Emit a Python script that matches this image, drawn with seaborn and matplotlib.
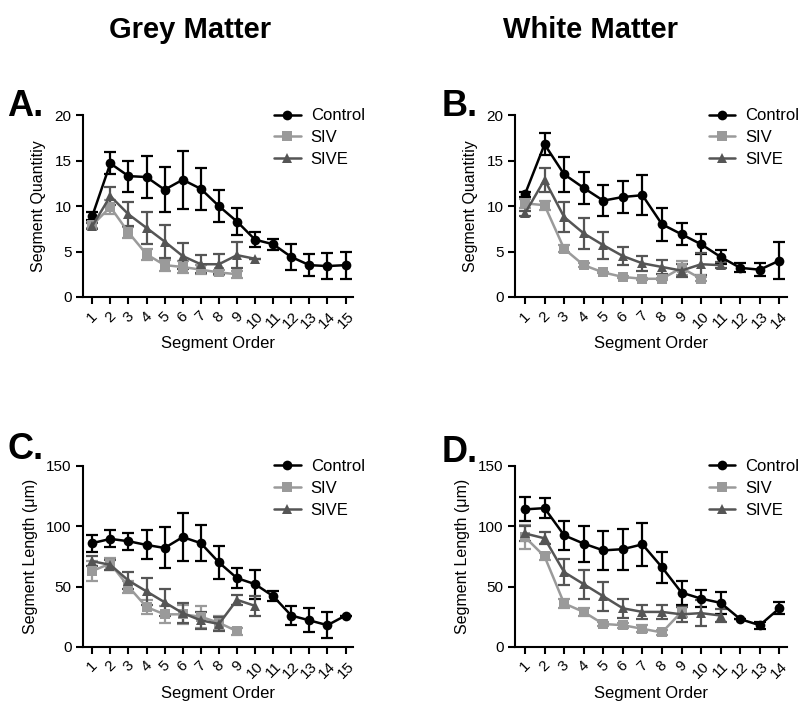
import pandas as pd
import matplotlib
matplotlib.use("Agg")
import matplotlib.pyplot as plt
import seaborn as sns

# Panel A - grey matter, segment quantity
a_ctrl = [8.9, 14.7, 13.3, 13.2, 11.8, 12.9, 11.9, 10.0, 8.3, 6.3, 5.8, 4.4, 3.5, 3.4, 3.5]
a_ctrl_err = [0.4, 1.2, 1.7, 2.3, 2.5, 3.2, 2.3, 1.8, 1.5, 0.8, 0.6, 1.4, 1.2, 1.4, 1.5]
a_siv = [7.9, 9.9, 7.1, 4.7, 3.5, 3.3, 3.0, 2.7, 2.5]
a_siv_err = [0.3, 0.8, 0.6, 0.6, 0.6, 0.7, 0.5, 0.3, 0.4]
a_sive = [7.8, 11.1, 9.1, 7.6, 6.1, 4.5, 3.6, 3.6, 4.6, 4.2]
a_sive_err = [0.3, 1.0, 1.3, 1.8, 1.8, 1.4, 1.0, 1.1, 1.4, 0.0]

# Panel B - white matter, segment quantity
b_ctrl = [11.3, 16.8, 13.5, 12.0, 10.6, 11.0, 11.2, 8.0, 6.9, 5.8, 4.4, 3.2, 3.0, 4.0]
b_ctrl_err = [0.3, 1.2, 1.9, 1.8, 1.7, 1.8, 2.2, 1.8, 1.2, 1.1, 0.8, 0.5, 0.7, 2.0]
b_siv = [10.3, 10.1, 5.3, 3.5, 2.7, 2.2, 2.0, 2.0, 3.2, 2.0]
b_siv_err = [0.5, 0.5, 0.4, 0.2, 0.1, 0.1, 0.1, 0.1, 0.8, 0.2]
b_sive = [9.2, 12.9, 8.8, 7.0, 5.7, 4.5, 3.7, 3.3, 2.9, 3.6, 3.5]
b_sive_err = [0.3, 1.3, 1.6, 1.7, 1.5, 1.0, 0.8, 0.8, 0.7, 1.2, 0.3]

# Panel C - grey matter, segment length
c_ctrl = [86, 89.5, 87.6, 84.5, 82, 91, 86, 70, 57, 52, 42, 26, 22, 18, 26]
c_ctrl_err = [7, 7, 7, 12, 17, 20, 15, 14, 8, 12, 4, 8, 10, 11, 0]
c_siv = [63, 69, 50, 33, 27, 27, 25, 20, 13]
c_siv_err = [8, 5, 5, 6, 7, 8, 9, 6, 3]
c_sive = [71, 68, 55, 46, 37, 28, 22, 19, 39, 34]
c_sive_err = [4, 4, 7, 11, 11, 8, 7, 6, 4, 8]

# Panel D - white matter, segment length
d_ctrl = [114, 115, 92.5, 85.6, 80, 81, 85, 66, 45, 40, 36.5, 23, 18, 32]
d_ctrl_err = [10, 8, 12, 15, 16, 17, 18, 13, 10, 7, 9, 0, 3, 5]
d_siv = [91, 75, 36, 29, 19, 18, 15, 12, 29]
d_siv_err = [10, 3, 4, 3, 2, 2, 3, 2, 4]
d_sive = [94, 90, 62, 52, 42, 32, 29, 29, 27, 28, 26]
d_sive_err = [6, 5, 11, 12, 12, 8, 6, 6, 6, 11, 5]

qty_ticks = [0, 5, 10, 15, 20]
len_ticks = [0, 50, 100, 150]

groups = ["Control", "SIV", "SIVE"]
colors = {"Control": "#000000", "SIV": "#9a9a9a", "SIVE": "#555555"}
markers = {"Control": "o", "SIV": "s", "SIVE": "^"}

sns.set_theme(style="ticks")
plt.rcParams["font.family"] = ["Liberation Sans", "DejaVu Sans"]
for k in ["text.color", "axes.labelcolor", "xtick.color", "ytick.color", "axes.edgecolor"]:
    plt.rcParams[k] = "black"


def panel(ax, series, yticks, ylabel, nx):
    rows = []
    for g, (vals, errs) in zip(groups, series):
        for i, (v, e) in enumerate(zip(vals, errs)):
            rows.append({"order": i + 1, "value": v, "err": e, "group": g})
    df = pd.DataFrame(rows)
    for g in groups:
        sub = df[df.group == g]
        ax.errorbar(sub.order, sub.value, yerr=sub.err, fmt="none",
                    ecolor=colors[g], elinewidth=1.6, capsize=4, capthick=1.6, zorder=2)
    sns.lineplot(data=df, x="order", y="value", hue="group", style="group",
                 palette=colors, markers=markers, dashes=False, linewidth=1.8,
                 markersize=7, markeredgewidth=0, ax=ax, zorder=3)
    ax.set_ylim(yticks[0], yticks[-1])
    ax.set_yticks(yticks)
    ax.set_yticklabels([str(t) for t in yticks])
    ax.set_xlim(0.5, nx + 0.4)
    ax.set_xticks(range(1, nx + 1))
    ax.set_xticklabels([str(i) for i in range(1, nx + 1)], rotation=45, ha="center")
    ax.set_xlabel("Segment Order", fontsize=12, labelpad=4)
    ax.set_ylabel(ylabel, fontsize=11.5, labelpad=6)
    ax.tick_params(labelsize=11, width=1.5, length=5, direction="out")
    for s in ["left", "bottom"]:
        ax.spines[s].set_linewidth(1.5)
    sns.despine(ax=ax)
    ax.legend(frameon=False, fontsize=12, loc="upper right", bbox_to_anchor=(1.1, 1.12),
              handlelength=1.6, handletextpad=0.6, labelspacing=0.4, title=None)


fig = plt.figure(figsize=(8, 7.07), dpi=100)
ax_a = fig.add_axes([0.104, 0.580, 0.337, 0.257])
ax_b = fig.add_axes([0.644, 0.580, 0.340, 0.257])
ax_c = fig.add_axes([0.104, 0.085, 0.337, 0.256])
ax_d = fig.add_axes([0.644, 0.085, 0.340, 0.256])

panel(ax_a, [(a_ctrl, a_ctrl_err), (a_siv, a_siv_err), (a_sive, a_sive_err)], qty_ticks, "Segment Quantitiy", 15)
panel(ax_b, [(b_ctrl, b_ctrl_err), (b_siv, b_siv_err), (b_sive, b_sive_err)], qty_ticks, "Segment Quantitiy", 14)
panel(ax_c, [(c_ctrl, c_ctrl_err), (c_siv, c_siv_err), (c_sive, c_sive_err)], len_ticks, "Segment Length (\u03bcm)", 15)
panel(ax_d, [(d_ctrl, d_ctrl_err), (d_siv, d_siv_err), (d_sive, d_sive_err)], len_ticks, "Segment Length (\u03bcm)", 14)

fig.text(0.238, 0.958, "Grey Matter", ha="center", va="center", fontsize=21, fontweight="bold")
fig.text(0.738, 0.958, "White Matter", ha="center", va="center", fontsize=21, fontweight="bold")
fig.text(0.009, 0.849, "A.", fontsize=26, fontweight="bold", va="center")
fig.text(0.552, 0.849, "B.", fontsize=26, fontweight="bold", va="center")
fig.text(0.009, 0.364, "C.", fontsize=26, fontweight="bold", va="center")
fig.text(0.552, 0.360, "D.", fontsize=26, fontweight="bold", va="center")

fig.savefig("out.png", dpi=100)
